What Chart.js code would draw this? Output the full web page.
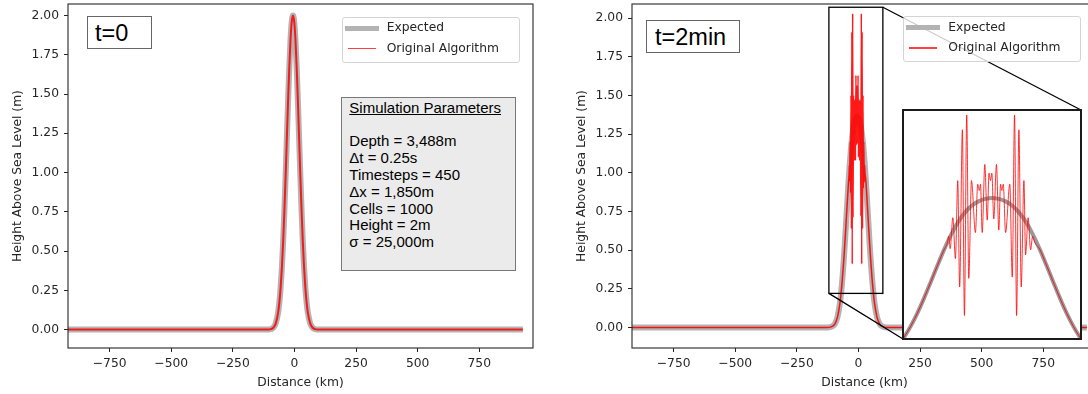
<!DOCTYPE html>
<html>
<head>
<meta charset="utf-8">
<script src="https://cdn.jsdelivr.net/npm/chart.js@4.4.1/dist/chart.umd.min.js"></script>
<style>
  html, body { margin: 0; padding: 0; background: #fff; width: 1088px; height: 394px; overflow: hidden; }
  canvas { position: absolute; }
  .tbox { position: absolute; box-sizing: border-box; border: 1px solid #666; background: #fff;
          font: 23.5px "Liberation Sans", Arial, sans-serif; line-height: 27px; color: #000; z-index: 5; }
  .params { position: absolute; box-sizing: border-box; border: 1px solid #777; background: #ebebeb;
            font: 15px "Liberation Sans", Arial, sans-serif; line-height: 16.8px; color: #000;
            padding: 2.1px 0 0 7.3px; white-space: pre; z-index: 5; }
  .params u { text-decoration: underline; }
  .legend { position: absolute; width: 178px; height: 46px; box-sizing: border-box; border: 1px solid #d4d4d4;
            border-radius: 3px; background: rgba(255,255,255,0.8); font: 12.3px "DejaVu Sans"; color: #262626; z-index: 5; }
  .legend .sw { position: absolute; }
  .legend .g { left: 2px; top: 8px; width: 34px; height: 5px; background: #b3b3b3; }
  .legend .r { left: 5px; top: 30px; width: 28px; height: 1.6px; background: #ff4040; }
  .legend .t { position: absolute; left: 44px; line-height: 15px; white-space: nowrap; }
</style>
</head>
<body>
<canvas id="left" width="544" height="394" style="left:0;top:0"></canvas>
<canvas id="right" width="544" height="394" style="left:564px;top:0"></canvas>
<canvas id="inset" width="180" height="231" style="left:902px;top:109px;background:#fff"></canvas>

<div class="tbox" style="left:86.7px;top:15.7px;width:65px;height:33.6px;padding:3.4px 0 0 7.3px">t=0</div>
<div class="tbox" style="left:646px;top:20px;width:94.3px;height:33.3px;padding:2.9px 0 0 8px">t=2min</div>

<div class="params" style="left:341px;top:96.7px;width:174.7px;height:174.3px"><u>Simulation Parameters</u>

Depth = 3,488m
Δt = 0.25s
Timesteps = 450
Δx = 1,850m
Cells = 1000
Height = 2m
σ = 25,000m</div>

<div class="legend" style="left:341.7px;top:16.7px">
  <span class="sw g"></span><span class="t" style="top:2.5px">Expected</span>
  <span class="sw r"></span><span class="t" style="top:23px">Original Algorithm</span>
</div>
<div class="legend" style="left:903.3px;top:16px">
  <span class="sw g"></span><span class="t" style="top:2.5px">Expected</span>
  <span class="sw r"></span><span class="t" style="top:23px">Original Algorithm</span>
</div>

<script>
// axis ticks
const xTicks = [-750, -500, -250, 0, 250, 500, 750];
const yTicks = [0, 0.25, 0.5, 0.75, 1, 1.25, 1.5, 1.75, 2];

// t = 0 : initial hump (km, m)
const distT0 = [-931, -156, -106, -96, -86, -76, -66, -61, -56, -51, -46, -41, -36, -31, -26, -21, -16, -11, -6,
                -1, 4, 9, 14, 19, 24, 29, 34, 39, 44, 49, 54, 64, 74, 84, 94, 144, 927];
const expectedT0 = [0, 0, 0.001, 0.003, 0.012, 0.04, 0.112, 0.178, 0.271, 0.396, 0.556, 0.751, 0.974, 1.213, 1.452, 1.67, 1.846, 1.96, 2.0,
                    1.96, 1.846, 1.67, 1.452, 1.213, 0.974, 0.751, 0.556, 0.396, 0.271, 0.178, 0.112, 0.04, 0.012, 0.003, 0.001, 0, 0];
const originalT0 = [0, 0, 0.001, 0.003, 0.012, 0.04, 0.112, 0.178, 0.271, 0.396, 0.556, 0.751, 0.974, 1.213, 1.452, 1.67, 1.846, 1.96, 2.0,
                    1.96, 1.846, 1.67, 1.452, 1.213, 0.974, 0.751, 0.556, 0.396, 0.271, 0.178, 0.112, 0.04, 0.012, 0.003, 0.001, 0, 0];

// t = 2 min : expected (two travelling halves)
const distExp2 = [-930, -155, -125, -115, -105, -95, -85, -75, -70, -65, -60, -55, -50, -45, -40, -35, -30, -25, -20, -15, -10, -5,
                  0, 5, 10, 15, 20, 25, 30, 35, 40, 45, 50, 55, 60, 65, 75, 85, 95, 105, 115, 145, 927];
const expectedT2 = [0, 0, 0, 0.002, 0.008, 0.025, 0.068, 0.159, 0.23, 0.32, 0.427, 0.55, 0.683, 0.818, 0.948, 1.065, 1.164, 1.241, 1.296, 1.332, 1.352, 1.36,
                    1.352, 1.332, 1.296, 1.241, 1.164, 1.065, 0.948, 0.818, 0.683, 0.55, 0.427, 0.32, 0.23, 0.159, 0.068, 0.025, 0.008, 0.002, 0, 0, 0];

// t = 2 min : original algorithm (oscillating)
const distOrig2 = [-930, -155, -125, -115, -105, -95, -85, -75, -70, -65, -60, -55, -50, -45, -40,
                   -38, -36.8, -35.8, -33.8, -31.9, -30.2, -28.8, -26.8, -25.3, -23.6, -22.1, -20.1, -17.2, -15.5, -14.4, -13.5,
                   -12.2, -10.3, -8.5, -7.2, -6.1, -5.1, -3.7, -1.7, 0, 1.3, 2.2, 3.3, 5.0, 8.1, 9.9, 11.6, 13.1, 14.8, 16.5,
                   18.5, 19.7, 21.6, 23.4, 24.9, 26.5,
                   30, 35, 40, 45, 50, 55, 60, 65, 75, 85, 95, 105, 115, 145, 927];
const originalT2 = [0, 0, 0, 0.002, 0.008, 0.025, 0.068, 0.159, 0.23, 0.32, 0.427, 0.55, 0.683, 0.818, 0.948,
                    0.99, 1.05, 0.95, 1.2, 0.87, 1.5, 0.64, 1.91, 0.41, 2.03, 0.71, 1.5, 1.08, 1.47, 1.42, 1.47,
                    1.08, 1.63, 1.18, 1.56, 1.5, 1.56, 1.19, 1.63, 1.1, 1.47, 1.42, 1.47, 1.08, 1.47, 0.72, 2.03, 0.41, 1.91, 0.64,
                    1.5, 0.9, 1.2, 0.94, 1.05, 1.0,
                    0.948, 0.818, 0.683, 0.55, 0.427, 0.32, 0.23, 0.159, 0.068, 0.025, 0.008, 0.002, 0, 0, 0];

// zoomed region marked on the t=2min plot, and the inset's own limits
const zoomRect = { x0: -120, x1: 99, y0: 0.22, y1: 2.07 };
const insetX = [-70.5, 60.5];
const insetY = [0.22, 2.07];

Chart.defaults.font.family = 'DejaVu Sans';
Chart.defaults.color = '#262626';

const pts = (xs, ys) => xs.map((x, i) => ({ x: x, y: ys[i] }));
const fmtX = v => (v < 0 ? '\u2212' + Math.abs(v) : String(v));

const framePlugin = {
  id: 'frame',
  afterDraw(chart, args, opts) {
    const { ctx, chartArea: a } = chart;
    ctx.save();
    ctx.strokeStyle = opts.color || '#262626';
    ctx.lineWidth = opts.width || 1.1;
    ctx.strokeRect(a.left, a.top, a.right - a.left, a.bottom - a.top);
    ctx.restore();
  }
};

// inset corners in page px
const INSET = { left: 903, top: 110, right: 1081, bottom: 339 };
const RIGHT_LEFT = 564;

const zoomMarkPlugin = {
  id: 'zoomMark',
  afterDraw(chart) {
    const { ctx, scales: { x, y } } = chart;
    const l = x.getPixelForValue(zoomRect.x0), r = x.getPixelForValue(zoomRect.x1);
    const t = y.getPixelForValue(zoomRect.y1), b = y.getPixelForValue(zoomRect.y0);
    ctx.save();
    ctx.strokeStyle = '#000';
    ctx.lineWidth = 1.3;
    ctx.strokeRect(l, t, r - l, b - t);
    ctx.beginPath();
    ctx.moveTo(r, t);
    ctx.lineTo(INSET.right - RIGHT_LEFT, INSET.top);
    ctx.moveTo(l, b);
    ctx.lineTo(INSET.left - RIGHT_LEFT, INSET.bottom);
    ctx.stroke();
    ctx.restore();
  }
};

function axes(yMin, yMax) {
  const grid = { drawOnChartArea: false, drawTicks: true, tickLength: 4, color: '#262626', lineWidth: 1 };
  const font = { size: 12.3 };
  return {
    x: {
      type: 'linear', min: -919, max: 968, bounds: 'data',
      grid: grid, border: { display: false },
      afterBuildTicks: s => { s.ticks = xTicks.map(v => ({ value: v })); },
      afterFit: s => { s.height = 46; s.paddingLeft = 0; s.paddingRight = 0; },
      ticks: { font: font, padding: 4, maxRotation: 0, callback: v => fmtX(v) },
      title: { display: true, text: 'Distance (km)', font: font, padding: { top: 0, bottom: 4 } }
    },
    y: {
      type: 'linear', min: yMin, max: yMax, bounds: 'data',
      grid: grid, border: { display: false },
      afterBuildTicks: s => { s.ticks = yTicks.map(v => ({ value: v })); },
      afterFit: s => { s.width = 68; s.paddingTop = 0; s.paddingBottom = 0; },
      ticks: { font: font, padding: 5, callback: v => v.toFixed(2) },
      title: { display: true, text: 'Height Above Sea Level (m)', font: font, padding: { top: 10, bottom: 0 } }
    }
  };
}

function lineSet(label, data, color, width, order) {
  return {
    label: label, data: data, borderColor: color, borderWidth: width, order: order,
    pointRadius: 0, fill: false, cubicInterpolationMode: 'monotone'
  };
}

const common = {
  responsive: false, animation: false, events: [],
  plugins: { legend: { display: false }, tooltip: { enabled: false } }
};

new Chart(document.getElementById('left'), {
  type: 'line',
  data: { datasets: [
    lineSet('Expected', pts(distT0, expectedT0), 'rgba(128,128,128,0.6)', 6, 2),
    lineSet('Original Algorithm', pts(distT0, originalT0), 'rgba(255,0,0,0.85)', 2, 1)
  ] },
  options: Object.assign({}, common, {
    layout: { padding: { left: 0, top: 4, right: 11, bottom: 0 } },
    scales: axes(-0.117, 2.073)
  }),
  plugins: [framePlugin]
});

new Chart(document.getElementById('right'), {
  type: 'line',
  data: { datasets: [
    lineSet('Expected', pts(distExp2, expectedT2), 'rgba(128,128,128,0.6)', 6, 2),
    lineSet('Original Algorithm', pts(distOrig2, originalT2), 'rgba(255,0,0,0.9)', 1.5, 1)
  ] },
  options: Object.assign({}, common, {
    layout: { padding: { left: 0, top: 4, right: 11, bottom: 0 } },
    scales: axes(-0.133, 2.091)
  }),
  plugins: [framePlugin, zoomMarkPlugin]
});

new Chart(document.getElementById('inset'), {
  type: 'line',
  data: { datasets: [
    lineSet('Expected', pts(distExp2, expectedT2), 'rgba(110,110,110,0.7)', 4, 2),
    lineSet('Original Algorithm', pts(distOrig2, originalT2), 'rgba(255,0,0,0.8)', 1, 1)
  ] },
  options: Object.assign({}, common, {
    layout: { padding: 1 },
    scales: {
      x: { type: 'linear', display: false, min: insetX[0], max: insetX[1], bounds: 'data' },
      y: { type: 'linear', display: false, min: insetY[0], max: insetY[1], bounds: 'data' }
    },
    plugins: Object.assign({}, common.plugins, { frame: { color: '#1a1a1a', width: 2 } })
  }),
  plugins: [framePlugin]
});
</script>
</body>
</html>
